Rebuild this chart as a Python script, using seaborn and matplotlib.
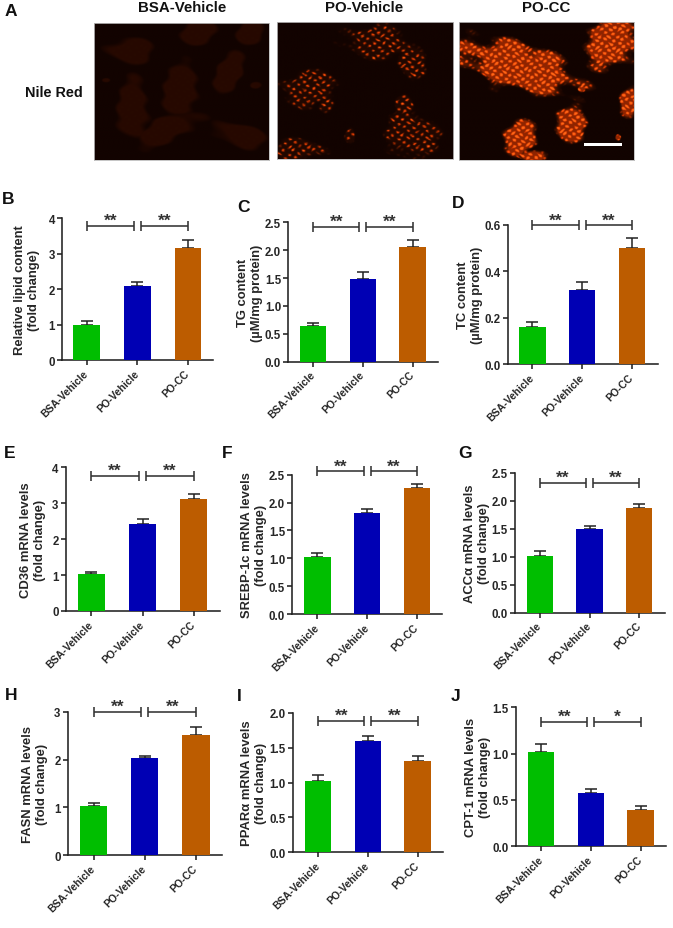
import numpy as np
import pandas as pd
import matplotlib
matplotlib.use("Agg")
import matplotlib.pyplot as plt
from matplotlib.colors import LinearSegmentedColormap
from matplotlib.patches import Rectangle
import seaborn as sns

sns.set_theme(style="white")
plt.rcParams['font.family'] = ['Liberation Sans', 'DejaVu Sans']
plt.rcParams['font.weight'] = 'bold'
plt.rcParams['text.color'] = '#1a1a1a'

# ---- data ----
conditions = ["BSA-Vehicle", "PO-Vehicle", "PO-CC"]
bar_colors = ["#00BE00", "#0000B4", "#BC5C00"]

B_means = [1.00, 2.08, 3.17]; B_errs = [0.10, 0.12, 0.21]
C_means = [0.64, 1.49, 2.05]; C_errs = [0.05, 0.11, 0.13]
D_means = [0.16, 0.32, 0.50]; D_errs = [0.023, 0.035, 0.042]
E_means = [1.02, 2.42, 3.12]; E_errs = [0.07, 0.14, 0.13]
F_means = [1.02, 1.82, 2.26]; F_errs = [0.07, 0.06, 0.08]
G_means = [1.02, 1.50, 1.88]; G_errs = [0.09, 0.06, 0.07]
H_means = [1.02, 2.03, 2.52]; H_errs = [0.08, 0.05, 0.15]
I_means = [1.02, 1.60, 1.31]; I_errs = [0.09, 0.06, 0.07]
J_means = [1.02, 0.58, 0.39]; J_errs = [0.08, 0.035, 0.045]

B_ticks = ["0", "1", "2", "3", "4"]
C_ticks = ["0.0", "0.5", "1.0", "1.5", "2.0", "2.5"]
D_ticks = ["0.0", "0.2", "0.4", "0.6"]
E_ticks = ["0", "1", "2", "3", "4"]
F_ticks = ["0.0", "0.5", "1.0", "1.5", "2.0", "2.5"]
G_ticks = ["0.0", "0.5", "1.0", "1.5", "2.0", "2.5"]
H_ticks = ["0", "1", "2", "3"]
I_ticks = ["0.0", "0.5", "1.0", "1.5", "2.0"]
J_ticks = ["0.0", "0.5", "1.0", "1.5"]

B_label = "Relative lipid content\n(fold change)"
C_label = "TG content\n(µM/mg protein)"
D_label = "TC content\n(µM/mg protein)"
E_label = "CD36 mRNA levels\n(fold change)"
F_label = "SREBP-1c mRNA levels\n(fold change)"
G_label = "ACCα mRNA levels\n(fold change)"
H_label = "FASN mRNA levels\n(fold change)"
I_label = "PPARα mRNA levels\n(fold change)"
J_label = "CPT-1 mRNA levels\n(fold change)"

stars_default = ["**", "**"]
stars_J = ["**", "*"]

# ---- layout (pixels of the 673x929 figure) ----
W, H = 673, 929
fig = plt.figure(figsize=(W / 100, H / 100), dpi=100, facecolor="white")


def px_axes(l, r, t, b):
    return fig.add_axes([l / W, 1 - b / H, (r - l) / W, (b - t) / H])


def bar_panel(means, errs, ticks, ylabel, stars, box, centers, label_x, bracket_y, bracket_px):
    l, r, t, b = box
    c1, c3 = centers
    ax = px_axes(l, r, t, b)
    ax.patch.set_alpha(0)
    df = pd.DataFrame({"condition": conditions, "value": means})
    sns.barplot(data=df, x="condition", y="value", hue="condition",
                palette=bar_colors, order=conditions, hue_order=conditions,
                legend=False, errorbar=None, width=0.53, saturation=1,
                linewidth=0, ax=ax, zorder=3)
    ax.errorbar(range(3), means, yerr=[[0, 0, 0], errs], fmt="none",
                ecolor="#222222", elinewidth=1.1, capsize=4.6, capthick=1.1, zorder=2)
    s = (c3 - c1) / 2
    ax.set_xlim((l - c1) / s, (r - c1) / s)
    vals = [float(v) for v in ticks]
    ax.set_ylim(vals[0], vals[-1])
    ax.set_yticks(vals)
    ax.set_yticklabels(ticks, fontsize=8.3, fontweight="bold")
    ax.set_xticks(range(3))
    ax.set_xticklabels(conditions, rotation=45, ha="right", va="center",
                       rotation_mode="anchor", fontsize=7.5, fontweight="bold")
    ax.set_xlabel("")
    ax.set_ylabel(ylabel, fontsize=9.4, fontweight="bold", linespacing=1.32, labelpad=0,
                  va="center")
    ax.yaxis.set_label_coords((label_x - l) / (r - l), 0.5)
    sns.despine(ax=ax)
    for sp in ("left", "bottom"):
        ax.spines[sp].set_linewidth(1.15)
        ax.spines[sp].set_color("#222222")
    ax.tick_params(axis="both", which="major", length=3.6, width=1.15, color="#222222",
                   pad=1.5, left=True, bottom=True)
    ax.tick_params(axis="x", pad=4.5)
    ax.grid(False)
    # significance brackets
    seg1 = (0, bracket_px[0])
    seg2 = (bracket_px[1], 2)
    for (a, e), star in zip((seg1, seg2), stars):
        ax.plot([a, e], [bracket_y, bracket_y], color="#333333", lw=1.15,
                clip_on=False, zorder=4, solid_capstyle="butt")
        ax.plot([a, e], [bracket_y, bracket_y], ls="none", marker="|", ms=6.5, mew=1.15,
                color="#333333", clip_on=False, zorder=4)
        ax.annotate(star, xy=((a + e) / 2, bracket_y), xytext=(0, -1.5),
                    textcoords="offset points", ha="center", va="bottom",
                    fontsize=12.5, fontweight="bold", color="#333333", annotation_clip=False)
    return ax


bar_panel(B_means, B_errs, B_ticks, B_label, stars_default, (62, 213, 219, 361.3), (86.7, 188), 27, 3.77, (0.93, 1.07))
bar_panel(C_means, C_errs, C_ticks, C_label, stars_default, (288.3, 438, 223.3, 362.7), (313, 412.7), 250, 2.42, (0.93, 1.07))
bar_panel(D_means, D_errs, D_ticks, D_label, stars_default, (507.7, 657.7, 225.7, 365.3), (532.3, 632), 470, 0.597, (0.93, 1.07))
bar_panel(E_means, E_errs, E_ticks, E_label, stars_default, (65.7, 220, 468.3, 612), (91.3, 193.7), 33, 3.77, (0.93, 1.07))
bar_panel(F_means, F_errs, F_ticks, F_label, stars_default, (292.3, 442.3, 475.7, 615), (317.3, 417), 254, 2.56, (0.93, 1.07))
bar_panel(G_means, G_errs, G_ticks, G_label, stars_default, (514.7, 664.7, 474, 613.7), (539.7, 639.3), 477, 2.32, (0.93, 1.07))
bar_panel(H_means, H_errs, H_ticks, H_label, stars_default, (67.7, 222, 712.7, 856.3), (93.7, 196), 35, 3.0, (0.93, 1.07))
bar_panel(I_means, I_errs, I_ticks, I_label, stars_default, (293, 442.7, 713.7, 853.3), (318, 417.7), 254, 1.885, (0.93, 1.07))
bar_panel(J_means, J_errs, J_ticks, J_label, stars_J, (516, 666, 708.3, 847.3), (541, 640.7), 478, 1.34, (0.93, 1.07))

# ---- Nile Red micrographs (schematic, cell clusters as soft ellipses) ----
clusters_bsa = [(.20, .21, .13, .10, 0), (.60, .07, .12, .09, -20), (.23, .65, .09, .24, 0),
                (.50, .50, .11, .20, 0), (.77, .37, .08, .15, 20), (.42, .78, .22, .09, -30),
                (.84, .82, .16, .08, 20), (.90, .08, .08, .09, 30), (.07, .42, .03, .02, 0),
                (.92, .46, .04, .03, 0)]
clusters_po = [(.58, .15, .21, .12, 10), (.755, .29, .08, .13, -20), (.18, .48, .18, .13, -10),
               (.28, .61, .05, .06, 0), (.767, .82, .14, .18, 0), (.72, .62, .05, .09, 0),
               (.13, .93, .14, .08, 0), (.415, .83, .03, .055, 0)]
clusters_cc = [(.346, .33, .37, .17, 22), (.877, .146, .17, .20, 20), (.975, .58, .06, .10, 0),
               (.635, .74, .095, .14, -10), (.345, .84, .11, .12, 0), (.44, .97, .08, .05, 0),
               (.70, .49, .022, .024, 0), (.91, .84, .015, .02, 0)]

micrograph_cmap = LinearSegmentedColormap.from_list(
    "nile", ["#120300", "#2a0a00", "#5a1800", "#c03000", "#ff4a08", "#ff6a18"])


def micrograph(clusters, spacing, dot_gain, haze):
    n = 420
    yy, xx = np.mgrid[0:1:n * 1j, 0:1:n * 1j]
    mask = np.zeros_like(xx)
    for cx, cy, rx, ry, ang in clusters:
        a = np.deg2rad(ang)
        dx, dy = xx - cx, yy - cy
        u = (dx * np.cos(a) + dy * np.sin(a)) / rx
        v = (-dx * np.sin(a) + dy * np.cos(a)) / ry
        wobble = 0.16 * np.sin(23 * xx + 7 * yy) + 0.12 * np.sin(47 * yy - 19 * xx)
        mask = np.maximum(mask, np.clip((1.08 + wobble - np.hypot(u, v)) / 0.3, 0, 1))
    wx = xx + 0.007 * np.sin(53 * yy + 2) + 0.003 * np.sin(127 * yy + 31 * xx)
    wy = yy + 0.007 * np.sin(61 * xx + 1) + 0.003 * np.sin(113 * xx - 37 * yy)
    k = 2 * np.pi / spacing
    dots = np.clip(np.sin(k * wx) * np.sin(k * wy), 0, 1) ** 1.2
    vary = 0.7 + 0.3 * np.sin(73 * xx + 19 * np.sin(29 * yy)) * np.sin(59 * yy + 5 * np.sin(37 * xx))
    return mask * (haze + dot_gain * dots * vary)


image_boxes = [(94, 269, 24, 161), (277, 453, 23, 160), (459, 634, 23, 161)]
images = [micrograph(clusters_bsa, 0.05, 0.015, 0.17),
          micrograph(clusters_po, 0.056, 0.95, 0.12),
          micrograph(clusters_cc, 0.05, 1.15, 0.50)]
for (l, r, t, b), img in zip(image_boxes, images):
    ax = px_axes(l, r, t, b)
    ax.imshow(img, cmap=micrograph_cmap, vmin=0, vmax=1, aspect="auto",
              extent=(0, 1, 1, 0), interpolation="bilinear")
    ax.set_xticks([]); ax.set_yticks([])
    for sp in ax.spines.values():
        sp.set_color("#bbbbbb"); sp.set_linewidth(0.6); sp.set_visible(True)
    if img is images[2]:
        ax.add_patch(Rectangle((0.715, 0.88), 0.215, 0.022, color="white", lw=0))


def fig_text(x, y, s, size, **kw):
    fig.text(x / W, 1 - y / H, s, fontsize=size, fontweight="bold", ha="center",
             va="center", color="#111111", **kw)


fig_text(182, 7.5, "BSA-Vehicle", 10.8)
fig_text(364, 7.5, "PO-Vehicle", 10.8)
fig_text(546, 7.5, "PO-CC", 10.8)
fig_text(54, 93, "Nile Red", 10.4)

panel_letters = ["A", "B", "C", "D", "E", "F", "G", "H", "I", "J"]
letter_xs = [11, 8, 243, 458, 10, 227, 465, 11, 239, 456]
letter_ys = [12, 200, 207, 203, 454, 454, 454, 695, 697, 697]
for ch, lx, ly in zip(panel_letters, letter_xs, letter_ys):
    fig_text(lx, ly, ch, 12.5)

fig.savefig("out.png", dpi=100, facecolor="white")
